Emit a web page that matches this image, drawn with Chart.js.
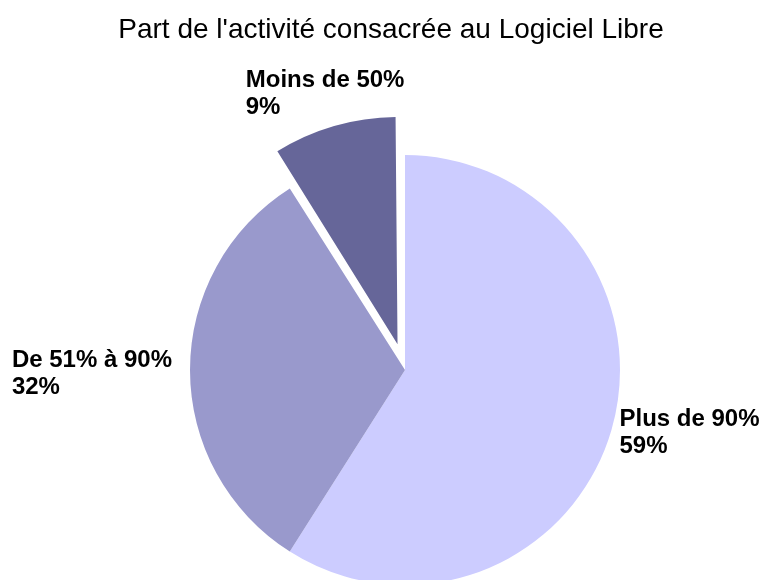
<!DOCTYPE html>
<html lang="fr">
<head>
<meta charset="utf-8">
<title>Part de l'activité consacrée au Logiciel Libre</title>
<script src="https://cdn.jsdelivr.net/npm/chart.js@4.4.1/dist/chart.umd.min.js"></script>
<style>
    body { margin: 0; background: #fff; }
    #wrap { position: relative; width: 766px; height: 580px; }
</style>
</head>
<body>
<div id="wrap"><canvas id="pieChart"></canvas></div>
<script>
// --- Données ---
const chartTitle = "Part de l'activité consacrée au Logiciel Libre";
const categories = ['Plus de 90%', 'De 51% à 90%', 'Moins de 50%'];
const shares = [59, 32, 9];
const sliceColors = ['#CCCCFF', '#9999CC', '#666699'];
const explode = [0, 0, 107];

// Étiquettes des parts + titre, dessinés sur le canvas
const labelPlugin = {
    id: 'sliceLabels',
    afterDraw(chart) {
        const ctx = chart.ctx;
        ctx.save();

        // titre
        ctx.font = '28px "Liberation Sans", Arial, sans-serif';
        ctx.fillStyle = '#000';
        ctx.textAlign = 'center';
        ctx.textBaseline = 'alphabetic';
        ctx.fillText(chartTitle, 391, 38);

        ctx.font = 'bold 24px "Liberation Sans", Arial, sans-serif';
        ctx.textAlign = 'left';
        const lineH = 27;

        const meta = chart.getDatasetMeta(0);
        meta.data.forEach((arc, i) => {
            const p = arc.getProps(['x', 'y', 'startAngle', 'endAngle', 'outerRadius'], true);
            const mid = (p.startAngle + p.endAngle) / 2;
            const circ = p.endAngle - p.startAngle;
            // même décalage que celui appliqué par Chart.js à une part détachée
            const off = (arc.options.offset || 0) / 4;
            const fix = 1 - Math.sin(Math.min(Math.PI, circ));
            const shift = off * (1 + fix);
            const cos = Math.cos(mid), sin = Math.sin(mid);
            const ex = p.x + cos * (p.outerRadius + shift);
            const ey = p.y + sin * (p.outerRadius + shift);

            const lines = [categories[i], shares[i] + '%'];
            const w = Math.max(...lines.map(l => ctx.measureText(l).width));
            let x, base;
            if (cos > 0.5) {
                x = ex + 8;
                base = ey - 4;
            } else if (cos < -0.5) {
                x = ex - 18 - w;
                base = ey - 3;
            } else {
                x = ex - w / 2 - 9;
                base = ey - 12 - lineH;
            }
            ctx.fillText(lines[0], x, base);
            ctx.fillText(lines[1], x, base + lineH);
        });
        ctx.restore();
    }
};

new Chart(document.getElementById('pieChart'), {
    type: 'pie',
    data: {
        labels: categories,
        datasets: [{
            data: shares,
            backgroundColor: sliceColors,
            borderWidth: 0,
            offset: explode
        }]
    },
    options: {
        responsive: true,
        maintainAspectRatio: false,
        animation: false,
        radius: 215,
        layout: { padding: { left: 44, right: 0, top: 160, bottom: 0 } },
        plugins: {
            legend: { display: false },
            title: { display: false },
            tooltip: { enabled: false }
        }
    },
    plugins: [labelPlugin]
});
</script>
</body>
</html>
